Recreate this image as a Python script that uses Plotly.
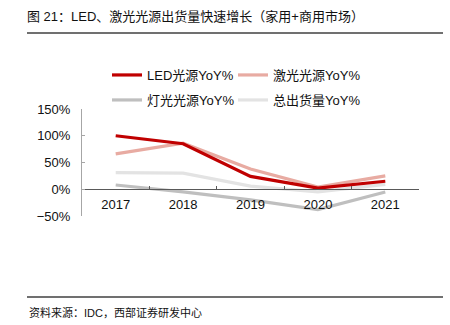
import plotly.graph_objects as go

years = ["2017", "2018", "2019", "2020", "2021"]
led = [100, 85, 24, 2, 15]
laser = [66, 86, 38, 4, 25]
lamp = [8, -5, -20, -38, -5]
total = [31, 30, 6, -5, 9]

names = ["LED光源YoY%", "激光光源YoY%", "灯光光源YoY%", "总出货量YoY%"]
colors = ["#C00000", "#E8ABA2", "#BFBFBF", "#E3E3E3"]

FONT = "Liberation Sans, Arial, Noto Sans CJK SC, sans-serif"
W, H = 450, 325
L, R, T, B = 82, 31, 109, 109
PW, PH = W - L - R, H - T - B

def xp(px):
    return (px - L) / PW

def yp(py):
    return (H - B - py) / PH

fig = go.Figure()
series = [led, laser, lamp, total]
legend_ids = ["legend", "legend2", "legend3", "legend4"]
legend_pos = [(107, 75), (233, 75), (107, 100), (233, 100)]
order = [3, 2, 1, 0]
for i in order:
    fig.add_trace(go.Scatter(
        x=years, y=series[i], name=names[i], mode="lines",
        line=dict(color=colors[i], width=3.2),
        legend=legend_ids[i],
    ))

legend_layout = {}
for lid, (px, py) in zip(legend_ids, legend_pos):
    legend_layout[lid] = dict(
        orientation="v", xref="container", yref="container",
        x=px / W, y=1 - py / H,
        xanchor="left", yanchor="middle",
        font=dict(family=FONT, size=13, color="#111111"),
        bgcolor="rgba(0,0,0,0)", borderwidth=0, itemwidth=30,
    )

fig.update_layout(
    width=W, height=H,
    margin=dict(l=L, r=R, t=T, b=B, autoexpand=False),
    paper_bgcolor="white", plot_bgcolor="white",
    font=dict(family=FONT, size=13, color="#111111"),
    showlegend=True,
    title=dict(
        text="图 21：LED、激光光源出货量快速增长（家用+商用市场）",
        xref="container", yref="container", x=27 / W, y=1 - 16 / H,
        xanchor="left", yanchor="middle",
        font=dict(family=FONT, size=13, color="#111111"),
    ),
    xaxis=dict(
        type="category", range=[-0.5, 4.5], anchor="free", position=0.25,
        showline=True, linecolor="#595959", linewidth=1,
        ticks="inside", ticklen=3, tickcolor="#595959", tickson="boundaries",
        showgrid=False, zeroline=False,
        ticklabelstandoff=3,
        tickfont=dict(family=FONT, size=13, color="#111111"),
    ),
    yaxis=dict(
        range=[-50, 150], dtick=50, ticksuffix="%",
        showline=True, linecolor="#A6A6A6", linewidth=1,
        ticks="inside", ticklen=3, tickcolor="#A6A6A6",
        showgrid=False, zeroline=False,
        ticklabelstandoff=8,
        tickfont=dict(family=FONT, size=13, color="#111111"),
    ),
    shapes=[
        dict(type="line", xref="paper", yref="paper", x0=xp(27), x1=xp(443),
             y0=yp(33), y1=yp(33), line=dict(color="#404040", width=1.5)),
        dict(type="line", xref="paper", yref="paper", x0=xp(27), x1=xp(443),
             y0=yp(297), y1=yp(297), line=dict(color="#404040", width=1.5)),
    ],
    annotations=[
        dict(text="资料来源：IDC，西部证券研发中心", xref="paper", yref="paper",
             x=xp(27), y=yp(312), xanchor="left", yanchor="middle",
             showarrow=False, font=dict(family=FONT, size=11, color="#111111")),
    ],
    **legend_layout,
)

fig.write_html("out.html")
